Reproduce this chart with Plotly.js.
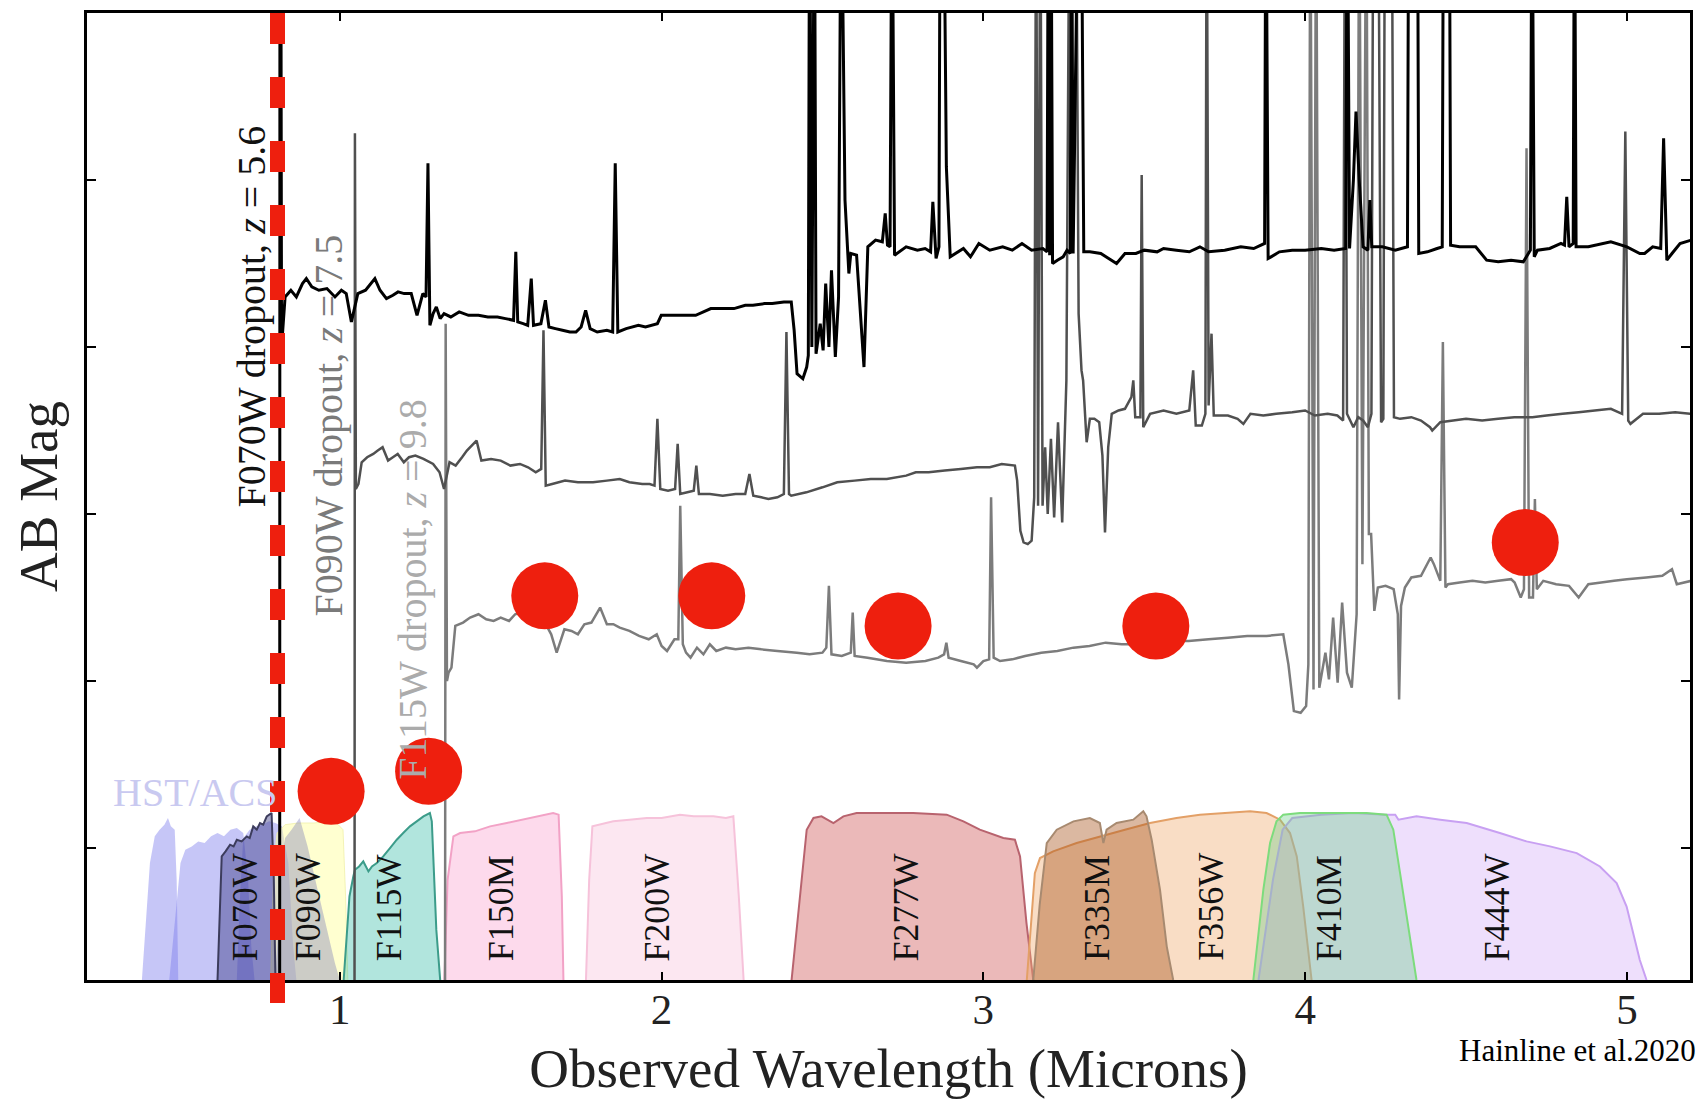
<!DOCTYPE html>
<html><head><meta charset="utf-8">
<script src="https://cdn.plot.ly/plotly-3.0.1.min.js"></script>
<style>html,body{margin:0;padding:0;background:#fff;} #chart{width:1700px;height:1099px;}</style>
</head><body><div id="chart"></div>
<script>
// ---------------- DATA ----------------
// Spectra: [wavelength (micron), AB mag]
const SPEC_Z56 = [[0.8130,32.0],[0.8140,24.0],[0.8165,24.0],[0.8190,27.00],[0.830,26.70],[0.848,26.66],[0.865,26.70],[0.884,26.62],[0.896,26.59],[0.913,26.64],[0.935,26.66],[0.960,26.65],[0.985,26.70],[1.005,26.66],[1.020,26.68],[1.036,26.85],[1.056,26.68],[1.080,26.66],[1.109,26.59],[1.125,26.66],[1.145,26.71],[1.165,26.69],[1.181,26.67],[1.200,26.68],[1.222,26.68],[1.240,26.81],[1.258,26.68],[1.268,26.70],[1.274,25.90],[1.280,26.87],[1.290,26.80],[1.300,26.76],[1.312,26.83],[1.324,26.80],[1.345,26.82],[1.371,26.79],[1.400,26.81],[1.431,26.81],[1.460,26.82],[1.490,26.82],[1.515,26.83],[1.540,26.84],[1.547,26.43],[1.553,26.85],[1.570,26.86],[1.584,26.87],[1.595,26.59],[1.602,26.87],[1.625,26.86],[1.639,26.72],[1.650,26.88],[1.670,26.89],[1.692,26.90],[1.715,26.91],[1.734,26.91],[1.750,26.88],[1.764,26.78],[1.778,26.89],[1.800,26.91],[1.830,26.90],[1.848,26.91],[1.856,25.90],[1.864,26.91],[1.890,26.89],[1.928,26.87],[1.950,26.88],[1.987,26.86],[1.999,26.81],[2.050,26.81],[2.106,26.81],[2.130,26.79],[2.153,26.77],[2.190,26.77],[2.225,26.77],[2.260,26.75],[2.284,26.75],[2.320,26.74],[2.344,26.74],[2.380,26.73],[2.403,26.73],[2.412,26.90],[2.421,27.16],[2.439,27.19],[2.451,27.12],[2.456,27.05],[2.460,24.0],[2.467,27.00],[2.475,24.0],[2.480,27.04],[2.493,26.86],[2.502,27.02],[2.510,26.62],[2.520,27.00],[2.528,26.54],[2.540,27.06],[2.550,26.70],[2.558,24.0],[2.570,26.12],[2.582,26.56],[2.588,26.44],[2.606,26.45],[2.629,27.12],[2.641,26.40],[2.665,26.36],[2.686,26.37],[2.695,26.20],[2.702,26.39],[2.710,26.40],[2.716,24.0],[2.724,26.45],[2.760,26.40],[2.795,26.42],[2.819,26.41],[2.836,26.43],[2.843,26.13],[2.853,26.47],[2.862,26.40],[2.866,24.0],[2.876,24.0],[2.885,25.92],[2.897,26.46],[2.938,26.41],[2.960,26.46],[2.986,26.38],[3.020,26.42],[3.060,26.40],[3.090,26.42],[3.120,26.38],[3.150,26.42],[3.185,26.41],[3.198,26.43],[3.202,24.0],[3.206,26.45],[3.210,24.0],[3.215,26.50],[3.230,26.48],[3.248,26.46],[3.260,26.42],[3.270,26.44],[3.274,24.0],[3.279,26.44],[3.296,24.0],[3.304,24.0],[3.312,26.43],[3.331,26.43],[3.365,26.44],[3.414,26.50],[3.440,26.44],[3.474,26.44],[3.500,26.42],[3.540,26.43],[3.560,26.41],[3.600,26.42],[3.640,26.43],[3.673,26.40],[3.700,26.43],[3.750,26.42],[3.800,26.40],[3.840,26.41],[3.874,26.38],[3.878,24.0],[3.885,26.47],[3.894,26.46],[3.920,26.43],[3.960,26.42],[4.000,26.42],[4.050,26.41],[4.090,26.42],[4.126,26.41],[4.131,24.0],[4.138,26.41],[4.150,26.00],[4.158,25.59],[4.168,26.00],[4.180,26.40],[4.195,26.42],[4.201,26.12],[4.207,26.40],[4.240,26.40],[4.280,26.42],[4.318,26.40],[4.322,24.0],[4.349,24.0],[4.353,26.44],[4.380,26.43],[4.410,26.41],[4.426,26.40],[4.430,24.0],[4.448,24.0],[4.452,26.39],[4.480,26.40],[4.530,26.40],[4.564,26.48],[4.600,26.49],[4.640,26.48],[4.678,26.49],[4.700,26.42],[4.705,24.0],[4.712,26.46],[4.722,26.42],[4.760,26.41],[4.795,26.38],[4.806,26.39],[4.813,26.10],[4.820,26.40],[4.833,26.38],[4.837,24.0],[4.842,26.40],[4.880,26.40],[4.950,26.37],[5.000,26.40],[5.040,26.44],[5.055,26.44],[5.080,26.40],[5.105,26.41],[5.114,25.75],[5.124,26.48],[5.140,26.44],[5.165,26.38],[5.200,26.36]];

const SPEC_Z75 = [[1.0455,32.0],[1.0470,25.72],[1.0500,27.85],[1.058,27.82],[1.068,27.69],[1.085,27.66],[1.104,27.64],[1.118,27.62],[1.133,27.60],[1.150,27.68],[1.165,27.66],[1.180,27.64],[1.199,27.69],[1.215,27.66],[1.235,27.65],[1.260,27.67],[1.290,27.70],[1.310,27.75],[1.324,27.85],[1.341,27.69],[1.360,27.71],[1.380,27.66],[1.395,27.62],[1.425,27.56],[1.440,27.68],[1.470,27.67],[1.500,27.68],[1.530,27.71],[1.560,27.70],[1.585,27.72],[1.609,27.75],[1.626,27.73],[1.633,26.90],[1.640,27.83],[1.660,27.82],[1.700,27.80],[1.740,27.81],[1.787,27.81],[1.830,27.80],[1.870,27.79],[1.900,27.81],[1.940,27.82],[1.963,27.82],[1.978,27.83],[1.987,27.43],[1.996,27.85],[2.020,27.86],[2.042,27.85],[2.050,27.58],[2.058,27.88],[2.080,27.87],[2.100,27.86],[2.108,27.71],[2.116,27.88],[2.150,27.88],[2.190,27.89],[2.230,27.88],[2.260,27.88],[2.273,27.76],[2.285,27.89],[2.310,27.90],[2.332,27.91],[2.360,27.90],[2.380,27.88],[2.388,26.91],[2.396,27.88],[2.403,27.89],[2.450,27.87],[2.500,27.84],[2.546,27.81],[2.600,27.80],[2.650,27.79],[2.700,27.79],[2.760,27.77],[2.790,27.75],[2.830,27.75],[2.880,27.74],[2.930,27.73],[2.980,27.72],[3.020,27.72],[3.057,27.70],[3.098,27.71],[3.105,27.80],[3.115,28.10],[3.125,28.17],[3.138,28.18],[3.150,28.16],[3.158,27.90],[3.164,24.0],[3.170,27.95],[3.177,24.0],[3.184,27.95],[3.192,27.60],[3.200,28.00],[3.210,27.55],[3.220,28.02],[3.232,27.45],[3.245,28.05],[3.258,27.20],[3.268,24.0],[3.288,24.0],[3.296,26.80],[3.305,27.14],[3.310,27.20],[3.321,27.57],[3.331,27.43],[3.345,27.43],[3.360,27.45],[3.370,27.65],[3.378,28.11],[3.388,27.60],[3.399,27.40],[3.420,27.38],[3.440,27.37],[3.460,27.30],[3.466,27.20],[3.472,27.42],[3.488,27.42],[3.492,25.97],[3.497,27.48],[3.518,27.40],[3.560,27.38],[3.600,27.40],[3.640,27.38],[3.652,27.14],[3.660,27.47],[3.679,27.47],[3.690,27.40],[3.694,24.0],[3.700,27.35],[3.709,26.92],[3.716,27.41],[3.725,27.41],[3.760,27.41],[3.790,27.43],[3.808,27.46],[3.830,27.40],[3.870,27.41],[3.910,27.40],[3.960,27.39],[4.000,27.38],[4.030,27.41],[4.070,27.40],[4.100,27.41],[4.118,27.44],[4.124,24.0],[4.130,27.40],[4.150,27.48],[4.165,27.42],[4.180,27.44],[4.195,27.48],[4.206,27.40],[4.212,24.0],[4.227,24.0],[4.236,27.45],[4.243,27.43],[4.248,24.0],[4.269,24.0],[4.276,27.42],[4.295,27.43],[4.330,27.42],[4.360,27.44],[4.388,27.48],[4.395,27.50],[4.420,27.45],[4.460,27.44],[4.500,27.43],[4.550,27.44],[4.600,27.43],[4.650,27.42],[4.706,27.42],[4.750,27.41],[4.800,27.40],[4.850,27.39],[4.900,27.38],[4.950,27.37],[4.985,27.40],[4.995,25.71],[5.004,27.44],[5.011,27.46],[5.050,27.40],[5.100,27.40],[5.150,27.39],[5.200,27.40]];

const SPEC_Z98 = [[1.3265,32.0],[1.3290,26.86],[1.3330,29.00],[1.338,28.95],[1.347,28.92],[1.359,28.67],[1.383,28.65],[1.405,28.62],[1.431,28.60],[1.455,28.63],[1.478,28.64],[1.500,28.62],[1.526,28.64],[1.545,28.60],[1.561,28.59],[1.600,28.62],[1.640,28.66],[1.657,28.72],[1.674,28.83],[1.698,28.69],[1.720,28.70],[1.740,28.72],[1.760,28.66],[1.782,28.65],[1.809,28.56],[1.830,28.66],[1.850,28.66],[1.870,28.68],[1.900,28.70],[1.930,28.73],[1.960,28.75],[1.985,28.72],[2.000,28.79],[2.017,28.82],[2.040,28.75],[2.052,28.75],[2.058,27.95],[2.066,28.78],[2.076,28.83],[2.090,28.86],[2.110,28.80],[2.130,28.84],[2.150,28.78],[2.170,28.82],[2.200,28.80],[2.230,28.81],[2.270,28.80],[2.310,28.81],[2.360,28.82],[2.420,28.83],[2.460,28.84],[2.500,28.83],[2.512,28.80],[2.520,28.43],[2.528,28.84],[2.560,28.85],[2.588,28.83],[2.594,28.59],[2.600,28.85],[2.640,28.86],[2.700,28.88],[2.760,28.89],[2.820,28.88],[2.860,28.86],[2.878,28.84],[2.885,28.77],[2.892,28.86],[2.930,28.88],[2.970,28.90],[2.980,28.92],[3.000,28.88],[3.018,28.87],[3.024,27.90],[3.032,28.86],[3.052,28.88],[3.090,28.87],[3.130,28.85],[3.180,28.83],[3.230,28.82],[3.280,28.80],[3.330,28.79],[3.380,28.77],[3.430,28.78],[3.500,28.78],[3.560,28.77],[3.600,28.76],[3.638,28.76],[3.700,28.75],[3.760,28.74],[3.820,28.73],[3.880,28.73],[3.932,28.72],[3.948,28.90],[3.965,29.18],[3.986,29.19],[4.003,29.15],[4.010,28.90],[4.016,24.0],[4.026,29.05],[4.034,24.0],[4.044,29.04],[4.063,28.83],[4.074,28.99],[4.087,28.62],[4.101,29.01],[4.115,28.53],[4.130,28.95],[4.145,29.04],[4.160,28.60],[4.168,24.0],[4.178,28.30],[4.190,24.0],[4.198,28.12],[4.205,28.12],[4.215,28.58],[4.226,28.44],[4.250,28.43],[4.275,28.45],[4.288,28.60],[4.292,29.11],[4.298,28.55],[4.310,28.44],[4.330,28.38],[4.360,28.37],[4.390,28.26],[4.400,28.30],[4.420,28.40],[4.428,26.97],[4.436,28.44],[4.444,28.42],[4.480,28.41],[4.520,28.40],[4.560,28.41],[4.600,28.40],[4.640,28.39],[4.651,28.41],[4.670,28.50],[4.680,28.45],[4.688,25.81],[4.696,28.50],[4.708,28.50],[4.714,27.91],[4.720,28.45],[4.740,28.40],[4.780,28.42],[4.820,28.43],[4.850,28.50],[4.880,28.42],[4.920,28.41],[4.960,28.40],[5.000,28.39],[5.060,28.38],[5.110,28.37],[5.140,28.33],[5.155,28.42],[5.200,28.40]];

// Photometry points (red dots): wavelength, AB mag
const PHOT_WAVE = [0.973, 1.276, 1.637, 2.156, 2.735, 3.536, 4.684];
const PHOT_MAG  = [29.66, 29.54, 28.49, 28.49, 28.67, 28.67, 28.17];

// Filter transmission curves: [wavelength, relative throughput]
const ACS_F435W = [[0.385,0],[0.395,0.30],[0.410,0.70],[0.425,0.86],[0.440,0.90],[0.455,0.93],[0.466,0.97],[0.475,0.92],[0.487,0.90],[0.493,0.60],[0.498,0]];
const ACS_F606W = [[0.470,0],[0.490,0.40],[0.505,0.70],[0.520,0.78],[0.540,0.80],[0.560,0.83],[0.580,0.82],[0.600,0.86],[0.620,0.88],[0.640,0.86],[0.660,0.90],[0.680,0.91],[0.700,0.88],[0.715,0.60],[0.725,0.20],[0.735,0]];
const ACS_F775W = [[0.680,0],[0.690,0.50],[0.700,0.85],[0.720,0.90],[0.740,0.92],[0.760,0.93],[0.780,0.95],[0.800,0.94],[0.820,0.92],[0.840,0.70],[0.855,0.20],[0.865,0]];
const ACS_F850LP = [[0.800,0],[0.815,0.55],[0.830,0.85],[0.850,0.90],[0.875,0.97],[0.900,0.80],[0.930,0.55],[0.960,0.30],[0.985,0.10],[1.000,0]];
const F070W = [[0.620,0],[0.628,0.55],[0.633,0.74],[0.645,0.77],[0.659,0.81],[0.670,0.80],[0.680,0.84],[0.695,0.83],[0.711,0.86],[0.720,0.85],[0.731,0.92],[0.742,0.90],[0.752,0.94],[0.762,0.93],[0.773,0.98],[0.788,1.00],[0.795,0.60],[0.800,0]];
const F090W = [[0.785,0],[0.795,0.70],[0.805,0.88],[0.830,0.93],[0.870,0.94],[0.920,0.94],[0.960,0.95],[0.990,0.94],[1.010,0.90],[1.018,0.50],[1.025,0]];
const F115W = [[1.012,0],[1.030,0.50],[1.042,0.62],[1.047,0.66],[1.060,0.68],[1.073,0.71],[1.089,0.65],[1.100,0.68],[1.115,0.70],[1.135,0.74],[1.156,0.79],[1.177,0.84],[1.197,0.88],[1.218,0.92],[1.239,0.95],[1.260,0.98],[1.280,1.00],[1.286,0.95],[1.300,0.30],[1.312,0]];
const F150M = [[1.325,0],[1.335,0.60],[1.353,0.86],[1.374,0.88],[1.420,0.89],[1.467,0.92],[1.519,0.94],[1.570,0.96],[1.612,0.98],[1.663,1.00],[1.680,0.99],[1.690,0.50],[1.695,0]];
const F200W = [[1.765,0],[1.775,0.60],[1.785,0.92],[1.850,0.95],[1.900,0.96],[1.954,0.97],[2.000,0.97],[2.057,0.99],[2.100,0.98],[2.161,0.98],[2.200,0.97],[2.223,0.98],[2.240,0.50],[2.255,0]];
const F277W = [[2.404,0],[2.430,0.50],[2.451,0.90],[2.472,0.97],[2.497,0.98],[2.534,0.94],[2.565,0.98],[2.606,1.00],[2.700,1.00],[2.782,1.00],[2.886,0.99],[2.938,0.95],[2.989,0.90],[3.062,0.85],[3.098,0.84],[3.114,0.74],[3.134,0.34],[3.155,0]];
const F335M = [[3.155,0],[3.175,0.45],[3.197,0.82],[3.228,0.90],[3.280,0.95],[3.331,0.97],[3.362,0.94],[3.373,0.82],[3.383,0.90],[3.414,0.94],[3.466,0.96],[3.497,1.01],[3.507,0.98],[3.523,0.84],[3.549,0.54],[3.570,0.20],[3.590,0]];
const F356W = [[3.135,0],[3.160,0.64],[3.176,0.73],[3.217,0.77],[3.290,0.82],[3.362,0.86],[3.440,0.90],[3.518,0.94],[3.600,0.97],[3.673,0.99],[3.750,1.00],[3.829,1.01],[3.880,1.00],[3.922,0.96],[3.953,0.88],[3.974,0.74],[3.994,0.44],[4.020,0]];
const F410M = [[3.839,0],[3.870,0.54],[3.891,0.82],[3.911,0.95],[3.932,0.99],[3.984,1.00],[4.087,1.00],[4.191,1.00],[4.253,0.99],[4.274,0.90],[4.295,0.64],[4.326,0.24],[4.346,0]];
const F444W = [[3.855,0],[3.880,0.35],[3.900,0.60],[3.930,0.90],[3.960,0.97],[4.050,0.99],[4.150,1.00],[4.250,0.99],[4.280,0.99],[4.290,0.96],[4.346,0.98],[4.420,0.96],[4.502,0.94],[4.605,0.88],[4.688,0.83],[4.761,0.80],[4.844,0.76],[4.916,0.68],[4.968,0.58],[4.999,0.44],[5.020,0.28],[5.040,0.12],[5.061,0]];

const FILTER_NAMES = ['F070W','F090W','F115W','F150M','F200W','F277W','F335M','F356W','F410M','F444W'];
const FILTER_LABEL_WAVE = [0.705, 0.901, 1.151, 1.501, 1.987, 2.760, 3.355, 3.709, 4.074, 4.597];

const DROPOUT_TEXT = ['F070W dropout, <i>z</i> = 5.6', 'F090W dropout, <i>z</i> = 7.5', 'F115W dropout, <i>z</i> = 9.8'];
const DROPOUT_TEXT_WAVE = [0.725, 0.966, 1.2275];
const DROPOUT_TEXT_MAG = [26.816, 27.471, 28.453];
const LYMAN_BREAK_F070W = 0.8064;

const X_TICKS = [1, 2, 3, 4, 5];
const Y_TICKS = [25, 26, 27, 28, 29, 30];
const X_RANGE = [0.2144, 5.196];
const MAG_RANGE = [30.79, 25.0];

// ---------------- BUILD ----------------
const SERIF = 'Liberation Serif, Times New Roman, serif';
const base = MAG_RANGE[0];
function filt(data, fill, line, lw) {
  return {x: data.map(p => p[0]), y: data.map(p => base - p[1]), mode: 'lines', fill: 'toself',
          fillcolor: fill, line: {color: line, width: lw}, hoverinfo: 'skip', showlegend: false};
}
function spec(data, color, w) {
  return {x: data.map(p => p[0]), y: data.map(p => p[1]), mode: 'lines',
          line: {color: color, width: w, simplify: false}, hoverinfo: 'skip', showlegend: false};
}
const traces = [
  filt(ACS_F435W, 'rgba(120,120,235,0.42)', 'rgba(120,120,235,0.0)', 0),
  filt(ACS_F606W, 'rgba(120,120,235,0.42)', 'rgba(120,120,235,0.0)', 0),
  filt(ACS_F775W, 'rgba(120,120,235,0.42)', 'rgba(120,120,235,0.0)', 0),
  filt(F090W, 'rgba(255,255,150,0.45)', 'rgba(240,240,170,0.8)', 1),
  filt(ACS_F850LP, 'rgba(110,110,180,0.35)', 'rgba(110,110,180,0.0)', 0),
  filt(F070W, 'rgba(40,40,120,0.40)', '#3c3c5c', 2),
  filt(F115W, 'rgba(60,190,170,0.40)', '#3c9c8a', 2),
  filt(F150M, 'rgba(250,150,200,0.35)', '#f2a2c6', 2),
  filt(F200W, 'rgba(245,160,200,0.25)', '#f6c2da', 2),
  filt(F277W, 'rgba(210,100,100,0.45)', '#b8636e', 2),
  filt(F356W, 'rgba(240,170,110,0.40)', '#e3a067', 2),
  filt(F335M, 'rgba(170,85,30,0.42)', '#a88a70', 2),
  filt(F444W, 'rgba(200,150,245,0.30)', '#c8a0f2', 2),
  filt(F410M, 'rgba(110,205,140,0.38)', '#7ddc7d', 2),
  spec(SPEC_Z98, '#7c7c7c', 2.5),
  spec(SPEC_Z75, '#505050', 2.5),
  spec(SPEC_Z56, '#000000', 3),
  {x: PHOT_WAVE, y: PHOT_MAG, mode: 'markers', marker: {size: 67, color: '#ee1f0e', line: {width: 0}},
   hoverinfo: 'skip', showlegend: false}
];

const annotations = [];
const dropColors = ['#111111', '#7a7a7a', '#ababab'];
DROPOUT_TEXT.forEach((t, i) => annotations.push({
  text: t, x: DROPOUT_TEXT_WAVE[i], y: DROPOUT_TEXT_MAG[i], xref: 'x', yref: 'y', showarrow: false,
  textangle: -90, xanchor: 'center', yanchor: 'middle', font: {family: SERIF, size: 40, color: dropColors[i]}
}));
FILTER_NAMES.forEach((t, i) => annotations.push({
  text: t, x: FILTER_LABEL_WAVE[i], y: base - 0.10, xref: 'x', yref: 'y', showarrow: false,
  textangle: -90, xanchor: 'center', yanchor: 'bottom', font: {family: SERIF, size: 36, color: '#111111'}
}));
annotations.push({text: 'HST/ACS', x: 0.289, y: 29.67, xref: 'x', yref: 'y', showarrow: false,
  xanchor: 'left', yanchor: 'middle', font: {family: SERIF, size: 40, color: '#c9c9f0'}});
annotations.push({text: 'Hainline et al.2020', x: 1.0044, y: -0.0725, xref: 'paper', yref: 'paper', showarrow: false,
  xanchor: 'right', yanchor: 'middle', borderpad: 0, font: {family: SERIF, size: 31, color: '#000000'}});

const axisCommon = {showline: true, linewidth: 3, linecolor: '#000', mirror: 'ticks', ticks: 'inside',
  tickwidth: 2, tickcolor: '#000', showgrid: false, zeroline: false, automargin: false};

const layout = {
  width: 1700, height: 1099, margin: {l: 87, r: 10, t: 13, b: 119},
  paper_bgcolor: '#fff', plot_bgcolor: '#fff', showlegend: false,
  xaxis: Object.assign({}, axisCommon, {range: X_RANGE, tickvals: X_TICKS, ticklen: 8,
    tickfont: {family: SERIF, size: 43, color: '#222'}, ticklabelstandoff: -11,
    title: {text: 'Observed Wavelength (Microns)', font: {family: SERIF, size: 55, color: '#222'}, standoff: 30}}),
  yaxis: Object.assign({}, axisCommon, {range: MAG_RANGE, tickvals: Y_TICKS, ticklen: 9, showticklabels: false,
    title: {text: 'AB Mag', font: {family: SERIF, size: 55, color: '#222'}, standoff: 9}}),
  shapes: [{type: 'line', xref: 'x', yref: 'paper', x0: LYMAN_BREAK_F070W, x1: LYMAN_BREAK_F070W, y0: 1, y1: -0.0238,
    line: {color: '#ee1f0e', width: 15, dash: '31px,33px'}, layer: 'above'}],
  annotations: annotations
};

Plotly.newPlot('chart', traces, layout, {staticPlot: true, displayModeBar: false});
</script></body></html>
